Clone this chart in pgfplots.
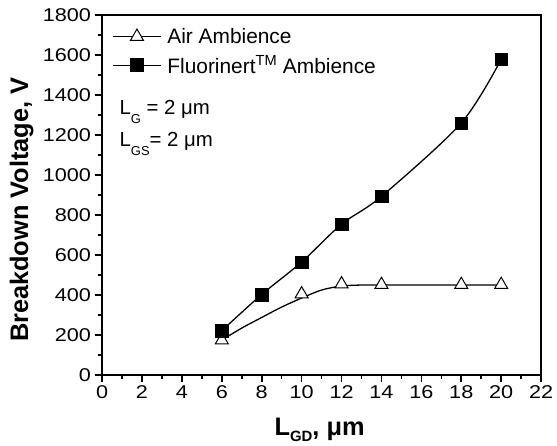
\documentclass[border=0pt]{standalone}
\usepackage{pgfplots}
\pgfplotsset{compat=1.18}
\usepackage{fontspec}
\setmainfont{Liberation Sans}
\begin{document}
\begin{tikzpicture}
\begin{axis}[
    name=ax,
    scale only axis,
    width=441.6pt, height=362.3pt,
    xmin=0, xmax=22, ymin=0, ymax=1800,
    xtick={0,2,...,22}, ytick={0,200,...,1800},
    minor tick num=1,
    tick pos=left, tick align=outside,
    major tick length=7pt, minor tick length=4pt,
    axis line style={line width=1.8pt},
    every tick/.style={line width=1.6pt, black},
    /pgf/number format/assume math mode=true,
    /pgf/number format/1000 sep={},
    ticklabel style={font=\fontsize{18.6}{22}\selectfont, xscale=1.17},
    xlabel={\textbf{L\raisebox{-6pt}{\fontsize{15}{16}\selectfont GD}, μm}},
    ylabel={\textbf{Breakdown Voltage, V}},
    label style={font=\fontsize{25.5}{30}\selectfont},
    xlabel style={at={(axis description cs:0.4955,-0.168)}, anchor=base},
    ylabel style={at={(axis description cs:-0.1834,0.459)}, anchor=center},
    legend style={draw=none, fill=none, at={(axis description cs:0.022,0.965)}, anchor=north west,
        inner xsep=0pt, inner ysep=0pt, nodes={inner sep=0.5pt},
        font=\fontsize{21}{24}\selectfont, row sep=10pt, column sep=5pt},
    legend cell align=left,
    legend image code/.code={
        \draw[#1, mark=none] (0pt,0pt) -- (49pt,0pt);
        \draw[#1, only marks] plot coordinates {(24.5pt,0pt)};},
]
% legend entries
\addlegendimage{black, line width=1.3pt, mark=triangle*, mark size=7.5pt, mark options={fill=white, line width=1pt}}
\addlegendentry{Air Ambience}
\addlegendimage{black, line width=1.3pt, mark=square*, mark size=6.3pt, mark options={fill=black}}
\addlegendentry{Fluorinert\textsuperscript{TM} Ambience}

% Air ambience fitted curve
\addplot[black, line width=1.3pt, smooth, forget plot] coordinates {
    (6,175) (7,235) (8,288) (9,340) (10,385) (11,425) (12,445) (13,450) (14,450) (20,450)
};
% Fluorinert fitted curve
\addplot[black, line width=1.3pt, smooth, forget plot] coordinates {
    (6,222) (8,403) (10,565) (12,754) (14,893) (18,1260) (20,1578)
};
% Air ambience markers
\addplot[only marks, black, mark=triangle*, mark size=7.5pt, mark options={fill=white, line width=1pt}, forget plot] coordinates {
    (6,175) (10,405) (12,455) (14,452) (18,452) (20,452)
};
% Fluorinert markers
\addplot[only marks, black, mark=square*, mark size=6.3pt, mark options={fill=black}, forget plot] coordinates {
    (6,222) (8,403) (10,565) (12,754) (14,893) (18,1260) (20,1578)
};

\node[anchor=base west, inner sep=0pt, font=\fontsize{20.5}{24}\selectfont] at (axis cs:0.87,1303)
    {L\raisebox{-9pt}{\fontsize{13}{14}\selectfont G} = 2 μm};
\node[anchor=base west, inner sep=0pt, font=\fontsize{20.5}{24}\selectfont] at (axis cs:0.87,1144)
    {L\raisebox{-9pt}{\fontsize{13}{14}\selectfont GS}= 2 μm};
\end{axis}
\path ([xshift=-102.7pt,yshift=-70.7pt]ax.south west) rectangle ([xshift=12.7pt,yshift=15pt]ax.north east);
\end{tikzpicture}
\end{document}
